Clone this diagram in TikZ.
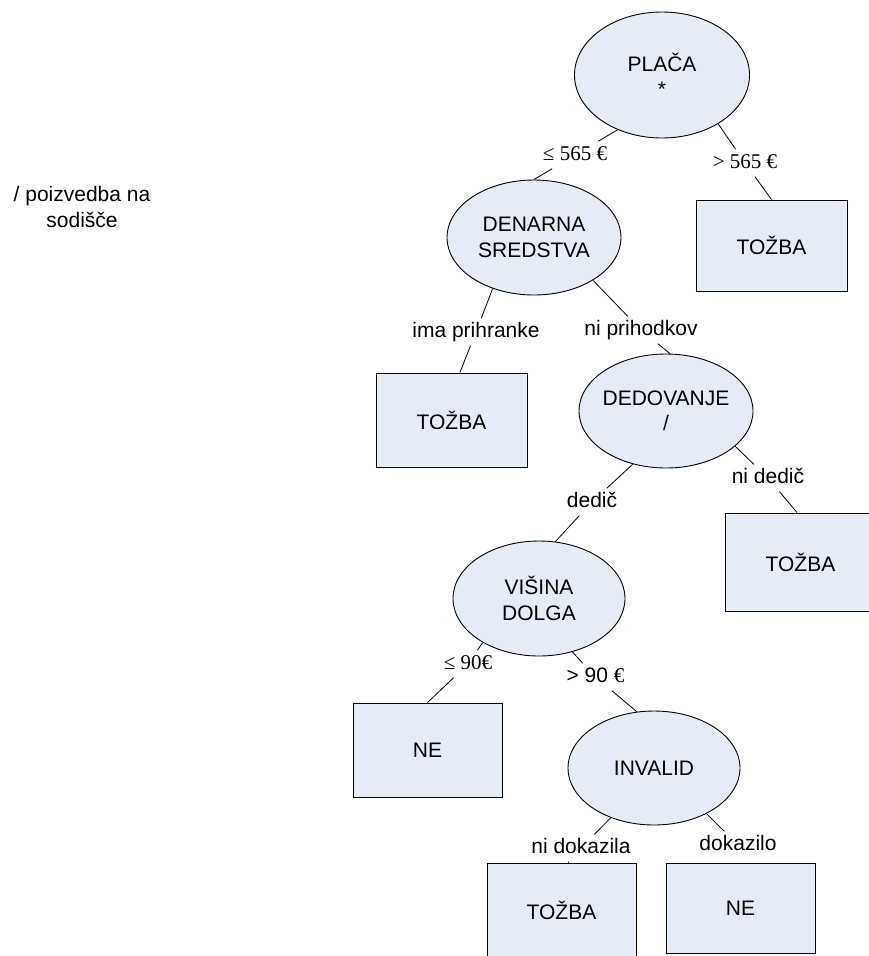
\documentclass[tikz,border=0pt]{standalone}
\usepackage{fontspec}
\setmainfont{Liberation Sans}
\newfontfamily\serfnt{Liberation Serif}
\usetikzlibrary{shapes.geometric}
\definecolor{boxfill}{RGB}{230,236,247}
\newcommand\nodefnt{\fontsize{21}{25.5}\selectfont}
\begin{document}
\begin{tikzpicture}[x=1pt,y=-1pt,
  ell/.style={ellipse, draw, line width=0.9pt, fill=boxfill, inner sep=-25pt, align=center, font=\nodefnt},
  leaf/.style={rectangle, draw, line width=0.9pt, fill=boxfill, inner sep=0pt, font=\nodefnt},
  lbl/.style={inner xsep=3pt, inner ysep=4pt, text height=15pt, text depth=4pt, font=\nodefnt},
  conn/.style={draw, line width=0.8pt}]
\clip (0,0) rectangle (869,956);
\fill[white] (0,0) rectangle (869,956);

% left note
\node[align=center, font=\fontsize{21}{25.5}\selectfont] (note) at (82,207) {/ poizvedba na\\sodišče};

% decision nodes
\node[ell, minimum width=175pt, minimum height=126pt] (placa) at (662,75) {PLAČA\\*};
\node[ell, minimum width=174pt, minimum height=115pt] (denarna) at (534,237.5) {DENARNA\\SREDSTVA};
\node[ell, minimum width=174pt, minimum height=114pt] (dedovanje) at (666,411) {DEDOVANJE\\/};
\node[ell, minimum width=172pt, minimum height=115pt] (visina) at (539,598.5) {VIŠINA\\DOLGA};
\node[ell, minimum width=172pt, minimum height=114pt] (invalid) at (654,768) {INVALID};

% leaves
\node[leaf, minimum width=151pt, minimum height=91pt] (t1) at (771.5,245.5) {TOŽBA};
\node[leaf, minimum width=151pt, minimum height=94pt] (t2) at (451.5,420) {TOŽBA};
\node[leaf, minimum width=151pt, minimum height=98pt] (t3) at (800.5,562) {TOŽBA};
\node[leaf, minimum width=149pt, minimum height=94pt] (ne1) at (427.5,750) {NE};
\node[leaf, minimum width=149pt, minimum height=94pt] (t4) at (561.5,910) {TOŽBA};
\node[leaf, minimum width=149pt, minimum height=90pt] (ne2) at (740.5,908) {NE};

% edge labels
\node[lbl] (l1) at (575,155) {\serfnt ≤ 565 €};
\node[lbl] (l2) at (745,163) {\serfnt > 565 €};
\node[lbl] (l3) at (476,332) {ima prihranke};
\node[lbl] (l4) at (641,330) {ni prihodkov};
\node[lbl] (l5) at (592,502) {dedič};
\node[lbl] (l6) at (768,478) {ni dedič};
\node[lbl] (l7) at (468,664) {\serfnt ≤ 90€};
\node[lbl] (l8) at (595.5,677) {> 90 {\serfnt €}};
\node[lbl] (l9) at (581,848) {ni dokazila};
\node[lbl] (l10) at (738,845) {dokazilo};

% connectors
\draw[conn] (placa.231) -- (l1);
\draw[conn] (l1) -- (denarna.90);
\draw[conn] (placa.319) -- (l2);
\draw[conn] (l2) -- (t1.north);
\draw[conn] (denarna.231) -- (l3);
\draw[conn] (l3) -- (t2.80);
\draw[conn] (denarna.324) -- (l4);
\draw[conn] (l4) -- (dedovanje.86);
\draw[conn] (dedovanje.333) -- (l6);
\draw[conn] (l6) -- (t3.94);
\draw[conn] (dedovanje.238) -- (l5);
\draw[conn] (l5) -- (visina.74);
\draw[conn] (visina.218) -- (l7);
\draw[conn] (l7) -- (ne1.north);
\draw[conn] (visina.302) -- (l8);
\draw[conn] (l8) -- (invalid.107);
\draw[conn] (invalid.229) -- (l9);
\draw[conn] (l9) -- (t4.82);
\draw[conn] (invalid.319) -- (l10);
\end{tikzpicture}
\end{document}
